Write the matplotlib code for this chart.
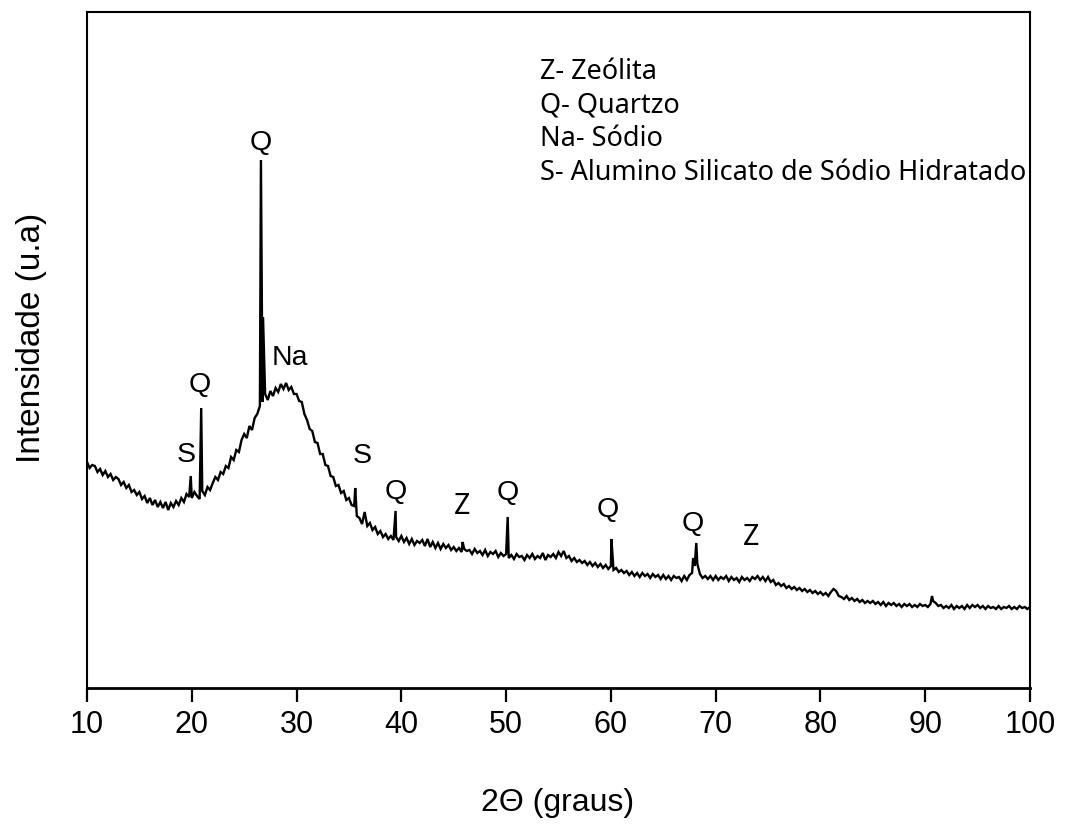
import numpy as np
import matplotlib
matplotlib.use("Agg")
import matplotlib.pyplot as plt
from matplotlib import font_manager as fm

# Diffractogram: step scan from 10 to 100 degrees 2-theta, 0.25 degree step
scan_start, scan_stop = 10.0, 100.0
scan_counts = [
    226, 220, 223, 222, 216, 219, 213, 217, 211, 214, 208, 211, 209, 203, 206, 200, 203, 196, 198, 193,
    196, 189, 192, 185, 190, 183, 188, 181, 186, 180, 186, 178, 185, 181, 187, 183, 190, 186, 194, 191,
    190, 196, 192, 189, 197, 193, 201, 198, 205, 211, 208, 216, 214, 222, 220, 231, 228, 238, 236, 248,
    254, 250, 262, 258, 270, 274, 282, 286, 294, 288, 297, 292, 300, 296, 304, 299, 305, 298, 301, 294,
    294, 287, 286, 274, 268, 259, 257, 246, 245, 234, 234, 223, 222, 212, 211, 202, 203, 195, 197, 188,
    190, 183, 182, 172, 170, 164, 176, 162, 165, 158, 161, 154, 157, 151, 154, 149, 152, 148, 151, 147,
    152, 146, 150, 144, 149, 143, 147, 145, 148, 142, 149, 141, 146, 140, 145, 139, 144, 140, 143, 138,
    141, 137, 140, 136, 139, 137, 138, 134, 139, 135, 137, 133, 138, 132, 136, 134, 137, 131, 135, 132,
    134, 130, 133, 129, 134, 131, 132, 128, 133, 130, 134, 129, 132, 130, 135, 128, 133, 131, 134, 130,
    136, 132, 137, 130, 132, 127, 130, 126, 128, 125, 127, 123, 126, 122, 125, 121, 124, 120, 123, 119,
    122, 118, 120, 116, 118, 115, 117, 113, 116, 112, 115, 111, 115, 112, 114, 110, 114, 111, 113, 109,
    113, 109, 112, 108, 112, 110, 111, 107, 112, 108, 113, 115, 122, 124, 114, 110, 112, 109, 112, 108,
    112, 108, 111, 109, 112, 107, 111, 108, 110, 106, 111, 108, 110, 107, 111, 109, 112, 108, 111, 107,
    111, 106, 108, 103, 105, 102, 104, 100, 102, 99, 101, 98, 100, 97, 99, 96, 98, 95, 97, 94,
    96, 93, 95, 92, 96, 99, 97, 92, 91, 89, 92, 88, 90, 87, 89, 86, 88, 85, 87, 85,
    87, 84, 86, 83, 86, 82, 85, 83, 85, 82, 84, 81, 84, 82, 84, 81, 83, 81, 84, 82,
    83, 81, 84, 87, 85, 82, 83, 80, 82, 80, 83, 79, 82, 80, 82, 79, 83, 80, 83, 81,
    83, 80, 82, 79, 82, 80, 81, 79, 82, 79, 81, 80, 82, 79, 81, 79, 82, 80, 81, 79, 81,
]

# Sharp reflections recorded between scan steps
peak_two_theta = [19.9, 20.9, 26.6, 26.8, 35.6, 39.45, 45.85, 50.15, 60.05, 67.85, 68.15, 90.65]
peak_counts = [212, 280, 528, 371, 200, 177, 146, 171, 149, 130, 145, 92]

# Phase identification marks
phase_labels = ["S", "Q", "Q", "Na", "S", "Q", "Z", "Q", "Q", "Q", "Z"]
label_two_theta = [19.5, 20.8, 26.6, 29.4, 36.3, 39.5, 45.8, 50.2, 59.7, 67.8, 73.4]
label_counts = [233, 303, 545, 330, 232, 196, 182, 195, 178, 164, 151]

legend_lines = ["Z- Zeólita", "Q- Quartzo", "Na- Sódio",
                "S- Alumino Silicato de Sódio Hidratado"]

x_ticks = [10, 20, 30, 40, 50, 60, 70, 80, 90, 100]


def pick_family(candidates):
    for name in candidates:
        try:
            fm.findfont(fm.FontProperties(family=name), fallback_to_default=False)
            return name
        except Exception:
            continue
    return "DejaVu Sans"


sans = pick_family(["Liberation Sans", "Arial"])
legend_font = pick_family(["Noto Sans", "Open Sans", "DejaVu Sans"])

grid = np.linspace(scan_start, scan_stop, len(scan_counts))
two_theta = np.concatenate([grid, np.asarray(peak_two_theta, float)])
counts = np.concatenate([np.asarray(scan_counts, float), np.asarray(peak_counts, float)])
order = np.argsort(two_theta, kind="stable")
two_theta, counts = two_theta[order], counts[order]

W, H = 1065, 830
fig = plt.figure(figsize=(W / 100, H / 100), dpi=100)
ax = fig.add_axes([87 / W, 1 - 688 / H, (1030 - 87) / W, (688 - 12) / H])

ax.plot(two_theta, counts, color="black", lw=1.7, solid_joinstyle="miter")

ax.set_xlim(10, 100)
ax.set_ylim(0, 676)
ax.set_yticks([])
ax.set_xticks(x_ticks)
ax.set_xticklabels([str(t) for t in x_ticks], fontfamily=sans, fontsize=22)
ax.tick_params(axis="x", direction="out", length=10, width=1.6, pad=6, colors="black")
for side, spine in ax.spines.items():
    spine.set_linewidth(1.5)
    spine.set_color("black")
ax.spines["bottom"].set_linewidth(2.0)

for lab, tx, ty in zip(phase_labels, label_two_theta, label_counts):
    fam = legend_font if lab == "Z" else sans
    ax.text(tx, ty, lab, ha="center", va="center", fontsize=20.5, fontfamily=fam)

for i, line in enumerate(legend_lines):
    fig.text(540 / W, 1 - (72 + 33.7 * i) / H, line, ha="left", va="center",
             fontsize=19.5, fontfamily=legend_font)

fig.text(558 / W, 1 - 803 / H, "2\u0398 (graus)", ha="center", va="center",
         fontsize=23, fontfamily=sans)
fig.text(32 / W, 1 - 338 / H, "Intensidade (u.a)", ha="center", va="center",
         rotation=90, fontsize=24, fontfamily=sans)

fig.savefig("out.png", dpi=100, facecolor="white")
